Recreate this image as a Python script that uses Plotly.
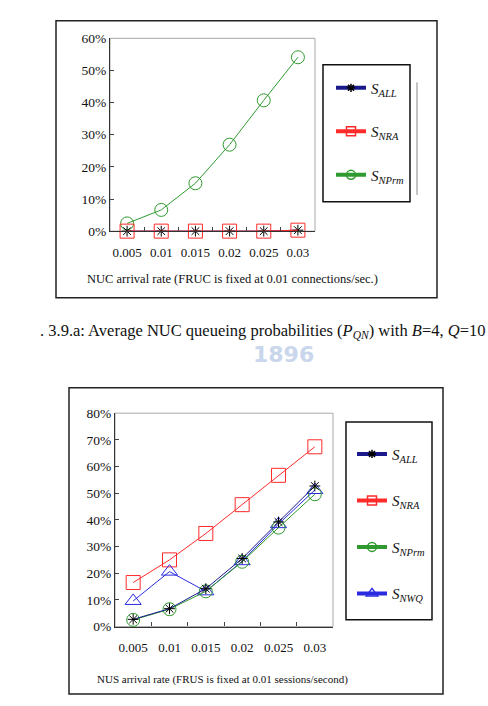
import plotly.graph_objects as go

W, H = 488, 706

categories = ["0.005", "0.01", "0.015", "0.02", "0.025", "0.03"]

# Top chart: NUC queueing probabilities
top_all = [0.0, 0.0, 0.0, 0.0, 0.0, 0.003]
top_nra = [0.0, 0.0, 0.0, 0.0, 0.0, 0.003]
top_nprm = [0.024, 0.066, 0.149, 0.269, 0.407, 0.541]

# Bottom chart: NUS
bot_all = [0.027, 0.067, 0.142, 0.255, 0.392, 0.527]
bot_nra = [0.165, 0.250, 0.349, 0.457, 0.567, 0.674]
bot_nprm = [0.025, 0.065, 0.132, 0.243, 0.371, 0.496]
bot_nwq = [0.096, 0.206, 0.132, 0.245, 0.384, 0.512]

top_yticks = [0, 0.1, 0.2, 0.3, 0.4, 0.5, 0.6]
bot_yticks = [0, 0.1, 0.2, 0.3, 0.4, 0.5, 0.6, 0.7, 0.8]

top_xtitle = "NUC arrival rate (FRUC is fixed at 0.01 connections/sec.)"
bot_xtitle = "NUS arrival rate (FRUS is fixed at 0.01 sessions/second)"
caption = ". 3.9.a: Average NUC queueing probabilities (<i>P</i><sub><i>QN</i></sub>) with <i>B</i>=4, <i>Q</i>=10"

C_ALL_LINE = "#1a1a8c"
C_RED = "#ff2a2a"
C_GREEN = "#2f9a2f"
C_BLUE = "#2b2be0"
FONT = "Liberation Serif"

def px(x):
    return x / W

def py(y):
    return 1 - y / H

fig = go.Figure()

def add_series(xa, ya, yvals, color, symbol, size, mcolor=None):
    fig.add_trace(go.Scatter(
        x=categories, y=yvals, xaxis=xa, yaxis=ya, mode="lines+markers",
        line=dict(color=color, width=1),
        marker=dict(symbol=symbol, size=size, color=mcolor or color,
                    line=dict(width=1)),
        showlegend=False, cliponaxis=False))

def add_legend_item(xa, ya, name, color, symbol, size, legend, group, mcolor=None):
    fig.add_trace(go.Scatter(
        x=[None], y=[None], xaxis=xa, yaxis=ya, mode="lines+markers", name=name,
        line=dict(color=color, width=4),
        marker=dict(symbol=symbol, size=size, color=mcolor or color,
                    line=dict(width=1.5)),
        legend=legend, legendgroup=group, showlegend=True))

# top chart series
add_series("x", "y", top_nprm, C_GREEN, "circle-open", 13)
add_series("x", "y", top_all, C_ALL_LINE, "asterisk-open", 9, "#000000")
add_series("x", "y", top_nra, C_RED, "square-open", 14)

# bottom chart series
add_series("x2", "y2", bot_nra, C_RED, "square-open", 14)
add_series("x2", "y2", bot_nwq, C_BLUE, "triangle-up-open", 14)
add_series("x2", "y2", bot_nprm, C_GREEN, "circle-open", 13)
add_series("x2", "y2", bot_all, C_ALL_LINE, "asterisk-open", 9, "#000000")

# legend items
add_legend_item("x", "y", "<i>S<sub>ALL</sub></i>", C_ALL_LINE, "asterisk-open", 7, "legend", "a", "#000000")
add_legend_item("x", "y", "<i>S<sub>NRA</sub></i>", C_RED, "square-open", 9, "legend", "b")
add_legend_item("x", "y", "<i>S<sub>NPrm</sub></i>", C_GREEN, "circle-open", 9, "legend", "c")

add_legend_item("x2", "y2", "<i>S<sub>ALL</sub></i>", C_ALL_LINE, "asterisk-open", 7, "legend2", "a", "#000000")
add_legend_item("x2", "y2", "<i>S<sub>NRA</sub></i>", C_RED, "square-open", 9, "legend2", "b")
add_legend_item("x2", "y2", "<i>S<sub>NPrm</sub></i>", C_GREEN, "circle-open", 9, "legend2", "c")
add_legend_item("x2", "y2", "<i>S<sub>NWQ</sub></i>", C_BLUE, "triangle-up-open", 10, "legend2", "d")

xcommon = dict(type="category", range=[-0.5, 5.5], tickson="boundaries", ticks="inside",
               ticklen=4, tickcolor="#444", showline=True, linecolor="#333", linewidth=1.2,
               showgrid=False, zeroline=False, tickangle=0,
               tickfont=dict(family=FONT, size=13, color="#111"),
               ticklabelstandoff=9)
ycommon = dict(tickformat=".0%", ticks="inside", ticklen=4, tickcolor="#444", showline=True,
               linecolor="#333", linewidth=1.2, showgrid=False, zeroline=False,
               tickfont=dict(family=FONT, size=13.5, color="#111"))

fig.update_layout(
    width=W, height=H, margin=dict(l=0, r=0, t=0, b=0),
    paper_bgcolor="white", plot_bgcolor="white",
    xaxis=dict(domain=[px(110), px(315)], anchor="y", **xcommon),
    yaxis=dict(domain=[py(229), py(32)], anchor="x", range=[0, 0.6], tickvals=top_yticks, **ycommon),
    xaxis2=dict(domain=[px(115), px(333)], anchor="y2", **xcommon),
    yaxis2=dict(domain=[py(633), py(415)], anchor="x2", range=[0, 0.8], tickvals=bot_yticks, **ycommon),
    legend=dict(x=px(331), y=py(66), xanchor="left", yanchor="top", bgcolor="rgba(0,0,0,0)",
                borderwidth=0, tracegroupgap=21, traceorder="grouped",
                font=dict(family=FONT, size=15, color="#111")),
    legend2=dict(x=px(352), y=py(440), xanchor="left", yanchor="top", bgcolor="rgba(0,0,0,0)",
                 borderwidth=0, tracegroupgap=24, traceorder="grouped",
                 font=dict(family=FONT, size=15, color="#111")),
)

shapes = [
    # outer boxes
    dict(type="rect", xref="paper", yref="paper", x0=px(56), x1=px(437), y0=py(297), y1=py(14),
         line=dict(color="#222", width=1.5)),
    dict(type="rect", xref="paper", yref="paper", x0=px(69), x1=px(443), y0=py(702), y1=py(389),
         line=dict(color="#222", width=1.5)),
    # legend boxes
    dict(type="rect", xref="paper", yref="paper", x0=px(323), x1=px(410), y0=py(199), y1=py(59),
         line=dict(color="#111", width=1.5)),
    dict(type="rect", xref="paper", yref="paper", x0=px(346), x1=px(432), y0=py(626), y1=py(424),
         line=dict(color="#111", width=1.5)),
    # vertical stray line
    dict(type="line", xref="paper", yref="paper", x0=px(417), x1=px(417), y0=py(192), y1=py(77),
         line=dict(color="#888", width=1)),
    # plot area borders (top/right in light gray)
    dict(type="rect", xref="x domain", yref="y domain", x0=0, x1=1, y0=0, y1=1,
         line=dict(color="#aaa", width=1), layer="below"),
    dict(type="rect", xref="x2 domain", yref="y2 domain", x0=0, x1=1, y0=0, y1=1,
         line=dict(color="#aaa", width=1), layer="below"),
]
fig.update_layout(shapes=shapes)

annotations = [
    dict(text=top_xtitle, xref="paper", yref="paper", x=px(232), y=py(278), showarrow=False,
         xanchor="center", yanchor="middle", font=dict(family=FONT, size=12.5, color="#111")),
    dict(text=bot_xtitle, xref="paper", yref="paper", x=px(222), y=py(687), showarrow=False,
         xanchor="center", yanchor="middle", font=dict(family=FONT, size=11, color="#111")),
    dict(text=caption, xref="paper", yref="paper", x=px(487), y=py(331), showarrow=False,
         xanchor="right", yanchor="middle", font=dict(family=FONT, size=16.5, color="#111")),
    dict(text="<b>1896</b>", xref="paper", yref="paper", x=px(283), y=py(355), showarrow=False,
         xanchor="center", yanchor="middle", font=dict(family="DejaVu Sans", size=22, color="#c9d6ec")),
]
fig.update_layout(annotations=annotations)

fig.write_html("out.html")
